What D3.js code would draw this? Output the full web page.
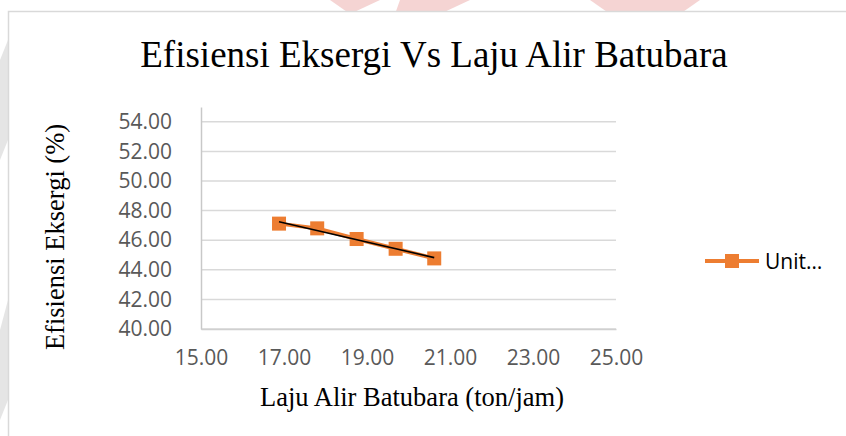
<!DOCTYPE html>
<html>
<head>
<meta charset="utf-8">
<script src="https://cdn.jsdelivr.net/npm/d3@7"></script>
<style>
  body { margin: 0; background: #fff; }
  svg { display: block; }
</style>
</head>
<body>
<svg id="chart" width="846" height="436"></svg>
<script>
// data
const flowRate = [16.88, 17.80, 18.75, 19.69, 20.62];      // ton/jam
const efficiency = [47.12, 46.80, 46.08, 45.42, 44.77];    // %
const xTicks = [15, 17, 19, 21, 23, 25];
const yTicks = [40, 42, 44, 46, 48, 50, 52, 54];
const seriesName = "Unit…";
const title = "Efisiensi Eksergi Vs Laju Alir Batubara";
const xTitle = "Laju Alir Batubara (ton/jam)";
const yTitle = "Efisiensi Eksergi (%)";

const svg = d3.select("#chart");
const orange = "#ED7D31";

// faint watermark behind the chart frame
let wm = svg.append("g").attr("opacity", 0.25);
wm.append("path").attr("d", "M330,0 L380,0 L350,14 Z M400,0 L470,0 L440,14 L395,14 Z").attr("fill", "#d9534f");
wm.append("path").attr("d", "M590,0 L700,0 L680,14 L610,14 Z").attr("fill", "#d9534f");
wm.append("path").attr("d", "M0,60 L8,40 L8,140 L0,160 Z M0,330 L8,300 L8,400 L0,420 Z").attr("fill", "#999");

// chart frame
svg.append("rect")
  .attr("x", 8.5).attr("y", 11.5)
  .attr("width", 860).attr("height", 440)
  .attr("fill", "#fff")
  .attr("stroke", "#d9d9d9")
  .attr("stroke-width", 1.5);

let xScale = d3.scaleLinear().domain([15, 25]).range([201, 616]);
let yScale = d3.scaleLinear().domain([40, 55]).range([329, 107]);

// gridlines
svg.append("g").selectAll("line")
  .data(yTicks)
  .enter()
  .append("line")
  .attr("x1", xScale(15)).attr("x2", xScale(25))
  .attr("y1", d => yScale(d)).attr("y2", d => yScale(d))
  .attr("stroke", "#d9d9d9")
  .attr("stroke-width", 1.5);

// y axis
let yAxis = d3.axisLeft(yScale)
  .tickValues(yTicks)
  .tickSize(0)
  .tickPadding(29)
  .tickFormat(d3.format(".2f"));
let yg = svg.append("g")
  .attr("transform", `translate(${xScale(15)},0)`)
  .call(yAxis);
yg.select(".domain").attr("stroke", "#c8c8c8").attr("stroke-width", 1.5);
yg.selectAll("text")
  .attr("fill", "#595959")
  .style("font-family", "'Open Sans', sans-serif")
  .style("font-size", "21px");

// x axis
let xAxis = d3.axisBottom(xScale)
  .tickValues(xTicks)
  .tickSize(0)
  .tickPadding(21)
  .tickFormat(d3.format(".2f"));
let xg = svg.append("g")
  .attr("transform", `translate(0,${yScale(40)})`)
  .call(xAxis);
xg.select(".domain").attr("stroke", "#d0d0d0").attr("stroke-width", 1.5);
xg.selectAll("text")
  .attr("fill", "#595959")
  .style("font-family", "'Open Sans', sans-serif")
  .style("font-size", "21px");

// series line + markers
let pts = flowRate.map((x, i) => [x, efficiency[i]]);
let line = d3.line().x(d => xScale(d[0])).y(d => yScale(d[1]));

svg.append("path")
  .datum(pts)
  .attr("d", line)
  .attr("fill", "none")
  .attr("stroke", orange)
  .attr("stroke-width", 4);

svg.append("g").selectAll("rect")
  .data(pts)
  .enter()
  .append("rect")
  .attr("x", d => xScale(d[0]) - 7)
  .attr("y", d => yScale(d[1]) - 7)
  .attr("width", 14).attr("height", 14)
  .attr("fill", orange);

// linear trendline
let mx = d3.mean(flowRate), my = d3.mean(efficiency);
let sxy = d3.sum(pts, d => (d[0] - mx) * (d[1] - my));
let sxx = d3.sum(flowRate, x => (x - mx) * (x - mx));
let slope = sxy / sxx, icpt = my - slope * mx;
let xEnds = d3.extent(flowRate);
svg.append("path")
  .datum(xEnds.map(x => [x, icpt + slope * x]))
  .attr("d", line)
  .attr("fill", "none")
  .attr("stroke", "#000")
  .attr("stroke-width", 1.6);

// legend
let lg = svg.append("g").attr("transform", "translate(705,261)");
lg.append("line").attr("x1", 0).attr("x2", 54).attr("y1", 0).attr("y2", 0)
  .attr("stroke", orange).attr("stroke-width", 4);
lg.append("rect").attr("x", 20).attr("y", -7).attr("width", 14).attr("height", 14).attr("fill", orange);
lg.append("text").attr("x", 60).attr("y", 7.5)
  .text(seriesName)
  .attr("fill", "#000")
  .style("font-family", "'Open Sans', sans-serif")
  .style("font-size", "21px");

// titles
svg.append("text")
  .attr("x", 434).attr("y", 67)
  .attr("text-anchor", "middle")
  .style("font-family", "'Liberation Serif', 'Times New Roman', serif")
  .style("font-size", "37px")
  .text(title);

svg.append("text")
  .attr("x", 412).attr("y", 406)
  .attr("text-anchor", "middle")
  .style("font-family", "'Liberation Serif', 'Times New Roman', serif")
  .style("font-size", "26.5px")
  .text(xTitle);

svg.append("text")
  .attr("transform", "translate(64,237) rotate(-90)")
  .attr("text-anchor", "middle")
  .style("font-family", "'Liberation Serif', 'Times New Roman', serif")
  .style("font-size", "26.5px")
  .text(yTitle);
</script>
</body>
</html>
